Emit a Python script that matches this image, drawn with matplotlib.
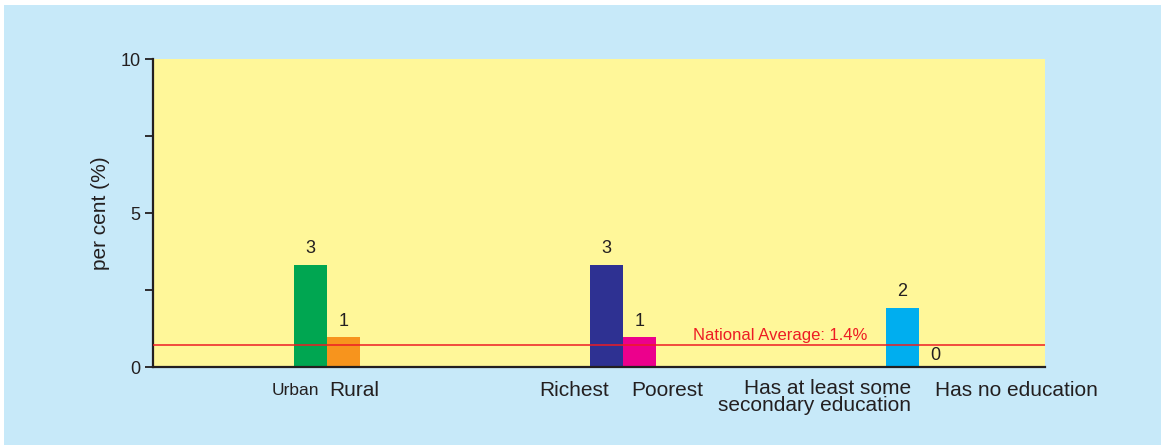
import matplotlib
matplotlib.use("Agg")
import matplotlib.pyplot as plt
from matplotlib.patches import Rectangle
import numpy as np

plt.rcParams['font.family'] = ['Liberation Sans', 'DejaVu Sans']

# ---- data ----
groups = ["Location", "Wealth", "Education"]
first_labels = ["Urban", "Richest", "Has at least some\nsecondary education"]
second_labels = ["Rural", "Poorest", "Has no education"]
first_values = [3.31, 3.31, 1.92]
second_values = [0.97, 0.97, 0.0]
first_text = ["3", "3", "2"]
second_text = ["1", "1", "0"]
first_colors = ["#00a651", "#2e3192", "#00aeef"]
second_colors = ["#f7941d", "#ec008c", None]
national_avg_line = 0.71
national_avg_label = "National Average: 1.4%"
yticks_major = [0, 5, 10]
yticks_minor = [2.5, 7.5]

BG = "#c7e9f9"
YEL = "#fff799"
DARK = "#231f20"

fig = plt.figure(figsize=(11.61, 4.45), dpi=100)
fig.patch.set_facecolor("white")
fig.patches.append(Rectangle((4 / 1161, 0), 1 - 4 / 1161, 1 - 5 / 445,
                             transform=fig.transFigure, facecolor=BG,
                             edgecolor="none", zorder=-10))

ax = fig.add_axes([153 / 1161, 1 - 367 / 445, (1045 - 153) / 1161, (367 - 59) / 445])
ax.set_facecolor(YEL)

x = np.arange(len(groups))
w = 0.1115
ax.bar(x - w, first_values, w, align="edge", color=first_colors, zorder=2)
sc = [c if c is not None else YEL for c in second_colors]
ax.bar(x, second_values, w, align="edge", color=sc, zorder=2)

for xi, v, t in zip(x, first_values, first_text):
    ax.annotate(t, (xi - w / 2, v), xytext=(0, 6), textcoords="offset points",
                ha="center", va="bottom", fontsize=13, color=DARK)
for xi, v, t in zip(x, second_values, second_text):
    ax.annotate(t, (xi + w / 2, v), xytext=(0, 5 if v > 0 else 2), textcoords="offset points",
                ha="center", va="bottom", fontsize=13, color=DARK)

ax.axhline(national_avg_line, color="#ed1c24", lw=1.1, zorder=3)
ax.text(1.53, national_avg_line + 0.08, national_avg_label, color="#ed1c24",
        fontsize=12, ha="center", va="bottom")

ax.set_xlim(-0.588, 2.426)
ax.set_ylim(0, 10)
ax.set_xticks([])
ax.set_yticks(yticks_major)
ax.set_yticks(yticks_minor, minor=True)
ax.tick_params(axis="y", which="both", direction="out", length=6, width=1.3,
               color=DARK, labelsize=13, labelcolor=DARK, pad=3)
for s in ["top", "right"]:
    ax.spines[s].set_visible(False)
for s in ["left", "bottom"]:
    ax.spines[s].set_color(DARK)
    ax.spines[s].set_linewidth(1.6)
ax.set_ylabel("per cent (%)", fontsize=15, color=DARK, va="center")
ax.yaxis.set_label_coords((100 - 153) / 892, 0.5)

# category labels below axis
lab_y = -0.075
trans = ax.get_xaxis_transform()
ax.text(x[0] - 0.108, lab_y, first_labels[0], transform=trans, ha="center", va="center",
        fontsize=12.5, color=DARK)
ax.text(x[0] + 0.091, lab_y, second_labels[0], transform=trans, ha="center", va="center",
        fontsize=15, color=DARK)
ax.text(x[1] - 0.166, lab_y, first_labels[1], transform=trans, ha="center", va="center",
        fontsize=15, color=DARK)
ax.text(x[1] + 0.149, lab_y, second_labels[1], transform=trans, ha="center", va="center",
        fontsize=15, color=DARK)
ax.text(x[2] - 0.027, lab_y + 0.036, first_labels[2], transform=trans, ha="right", va="top",
        fontsize=15, color=DARK, linespacing=0.86, multialignment="right")
ax.text(x[2] + 0.331, lab_y, second_labels[2], transform=trans, ha="center", va="center",
        fontsize=15, color=DARK)

fig.savefig("out.png", dpi=100, facecolor=fig.get_facecolor())
